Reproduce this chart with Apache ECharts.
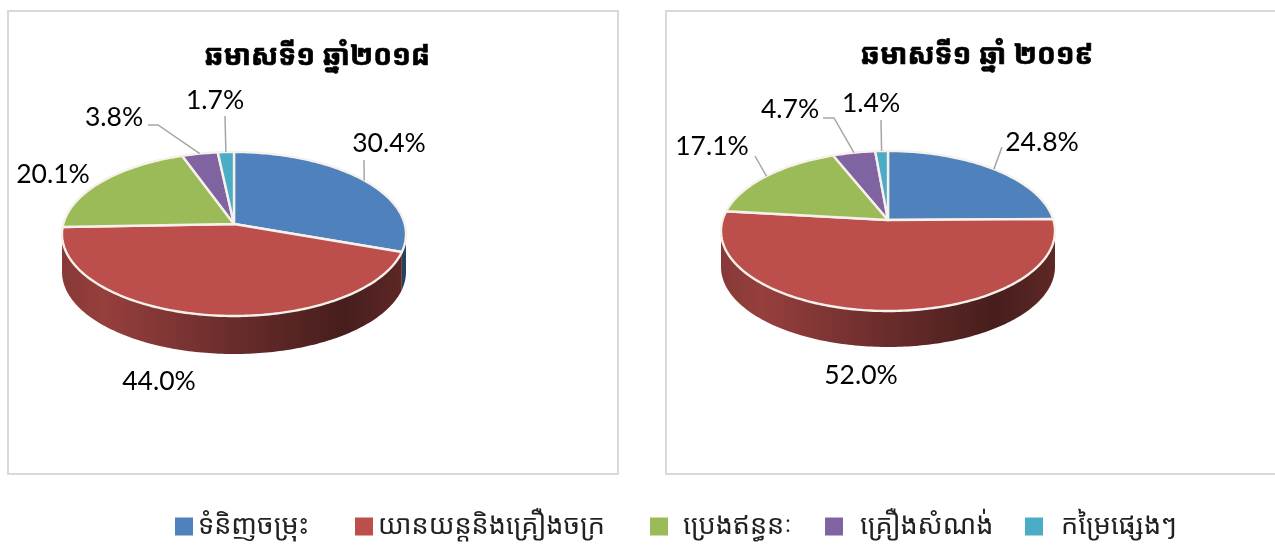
<!DOCTYPE html>
<html><head><meta charset="utf-8">
<style>html,body{margin:0;padding:0;background:#fff}#c{width:1275px;height:546px}</style>
<script src="https://cdn.jsdelivr.net/npm/echarts@6/dist/echarts.min.js"></script>
</head><body><div id="c"></div>
<script>
// ---- data ----
const categories = ['ទំនិញចម្រុះ','យានយន្តនិងគ្រឿងចក្រ','ប្រេងឥន្ធនៈ','គ្រឿងសំណង់','កម្រៃផ្សេងៗ'];
const share2018 = [30.4,44.0,20.1,3.8,1.7];
const share2019 = [24.8,52.0,17.1,4.7,1.4];
const panelTitles = ['ឆមាសទី១ ឆ្នាំ២០១៨','ឆមាសទី១ ឆ្នាំ ២០១៩'];
// ---- layout / style ----
const colors = ['#4F81BD','#BC4F4C','#9BBB59','#8064A2','#4BACC6'];
const shares = [share2018, share2019];
const pies = [
  {cx:234, cy:224, rx:172, up:72, down:92, depth:38},
  {cx:888, cy:220, rx:167, up:69, down:91, depth:36}
];
pies.forEach(p=>{
  p.k=(p.down-p.up)/(p.down+p.up);
  p.b=p.down*(1-p.k);
  p.a=p.rx*Math.sqrt(1-p.k*p.k);
});
const labelPos = [
  [[389,143],[159,381],[53,174],[114,117],[215,100]],
  [[1042,142],[861,375],[712,146],[790,109],[871,103]]
];
// start of each leader (next to the label), elbow included; null = no leader
const leaders = [
  [[[364,160]],null,null,[[148,125],[158,125]],[[225,116]]],
  [[[1002,147]],null,[[755,156]],[[823,118],[834,118]],[[881,120]]]
];
const legendLeft = [175,355,650,825,1025];
const legendTextPad = [0,0,10,12,13];

function proj(p,deg){
  const t=deg*Math.PI/180, u=Math.sin(t), v=-Math.cos(t), w=1-p.k*v;
  return [p.cx+p.a*u/w, p.cy+p.b*v/w];
}
function shade(hex,f){
  const n=parseInt(hex.slice(1),16);
  const c=[n>>16,(n>>8)&255,n&255].map(x=>Math.round(x*f));
  return 'rgb('+c.join(',')+')';
}
function renderer(si){
  return function(params,api){
    const panel=api.value(0), value=api.value(1), p=pies[panel], arr=shares[panel];
    let start=0; for(let i=0;i<si;i++) start+=arr[i];
    const a0=start*3.6, a1=(start+value)*3.6, mid=(a0+a1)/2;
    const children=[];
    // side wall (front part of the rim only)
    const lim=Math.acos(-p.k)*180/Math.PI;
    const w0=Math.max(a0,lim), w1=Math.min(a1,360-lim);
    if(w1>w0){
      const top=[];
      for(let d=w0;d<w1;d+=1) top.push(proj(p,d));
      top.push(proj(p,w1));
      const bottom=top.slice().reverse().map(q=>[q[0],q[1]+p.depth]);
      children.push({type:'polygon',shape:{points:top.concat(bottom)},style:{
        fill:{type:'linear',global:true,x:p.cx-p.rx,y:0,x2:p.cx+p.rx,y2:0,colorStops:[
          {offset:0,color:shade(colors[si],.72)},{offset:.12,color:shade(colors[si],.8)},
          {offset:.5,color:shade(colors[si],.56)},{offset:.82,color:shade(colors[si],.38)},
          {offset:1,color:shade(colors[si],.5)}]}
      }});
    }
    // top face
    const face=[[p.cx,p.cy]];
    for(let d=a0;d<a1;d+=1) face.push(proj(p,d));
    face.push(proj(p,a1));
    children.push({type:'polygon',z2:5,shape:{points:face},style:{
      fill:colors[si],stroke:'#f6f1ea',lineWidth:2.4,lineJoin:'round'}});
    // leader
    const ld=leaders[panel][si];
    if(ld){
      children.push({type:'polyline',z2:6,shape:{points:ld.concat([proj(p,mid)])},
        style:{fill:null,stroke:'#a6a6a6',lineWidth:1.5}});
    }
    // label
    const lp=labelPos[panel][si];
    children.push({type:'text',z2:7,style:{text:value.toFixed(1)+'%',x:lp[0],y:lp[1],
      font:'26.5px Lato, Carlito, sans-serif',fill:'#000',align:'center',verticalAlign:'middle'}});
    return {type:'group',children};
  };
}
const series=categories.map((name,si)=>({
  name, type:'custom', coordinateSystem:'none', animation:false, silent:true,
  itemStyle:{color:colors[si]},
  data:shares.map((arr,pi)=>[pi,arr[si]]),
  renderItem:renderer(si)
}));
const chart=echarts.init(document.getElementById('c'),null,{renderer:'canvas'});
chart.setOption({
  animation:false,
  backgroundColor:'#fff',
  title:panelTitles.map((t,i)=>({
    text:t,left:[312,972][i],top:[38,37][i],textAlign:'center',
    textStyle:{fontSize:28,fontWeight:'bold',color:'#000',textBorderColor:'#000',textBorderWidth:0.7,
      fontFamily:'"Noto Sans Khmer","Noto Sans",sans-serif'}
  })),
  legend:categories.map((name,i)=>({
    data:[name],left:legendLeft[i],top:513,padding:0,icon:'rect',itemWidth:18,itemHeight:18,itemGap:0,
    selectedMode:false,
    textStyle:{fontSize:27,color:'#222',padding:[0,0,4,legendTextPad[i]],
      fontFamily:'"Noto Sans Khmer","Noto Sans",sans-serif'}
  })),
  graphic:[
    {type:'rect',z:-1,shape:{x:8,y:11,width:610,height:463},style:{fill:'#fff',stroke:'#d9d9d9',lineWidth:2}},
    {type:'rect',z:-1,shape:{x:666,y:11,width:620,height:463},style:{fill:'#fff',stroke:'#d9d9d9',lineWidth:2}}
  ],
  series
});
</script></body></html>
